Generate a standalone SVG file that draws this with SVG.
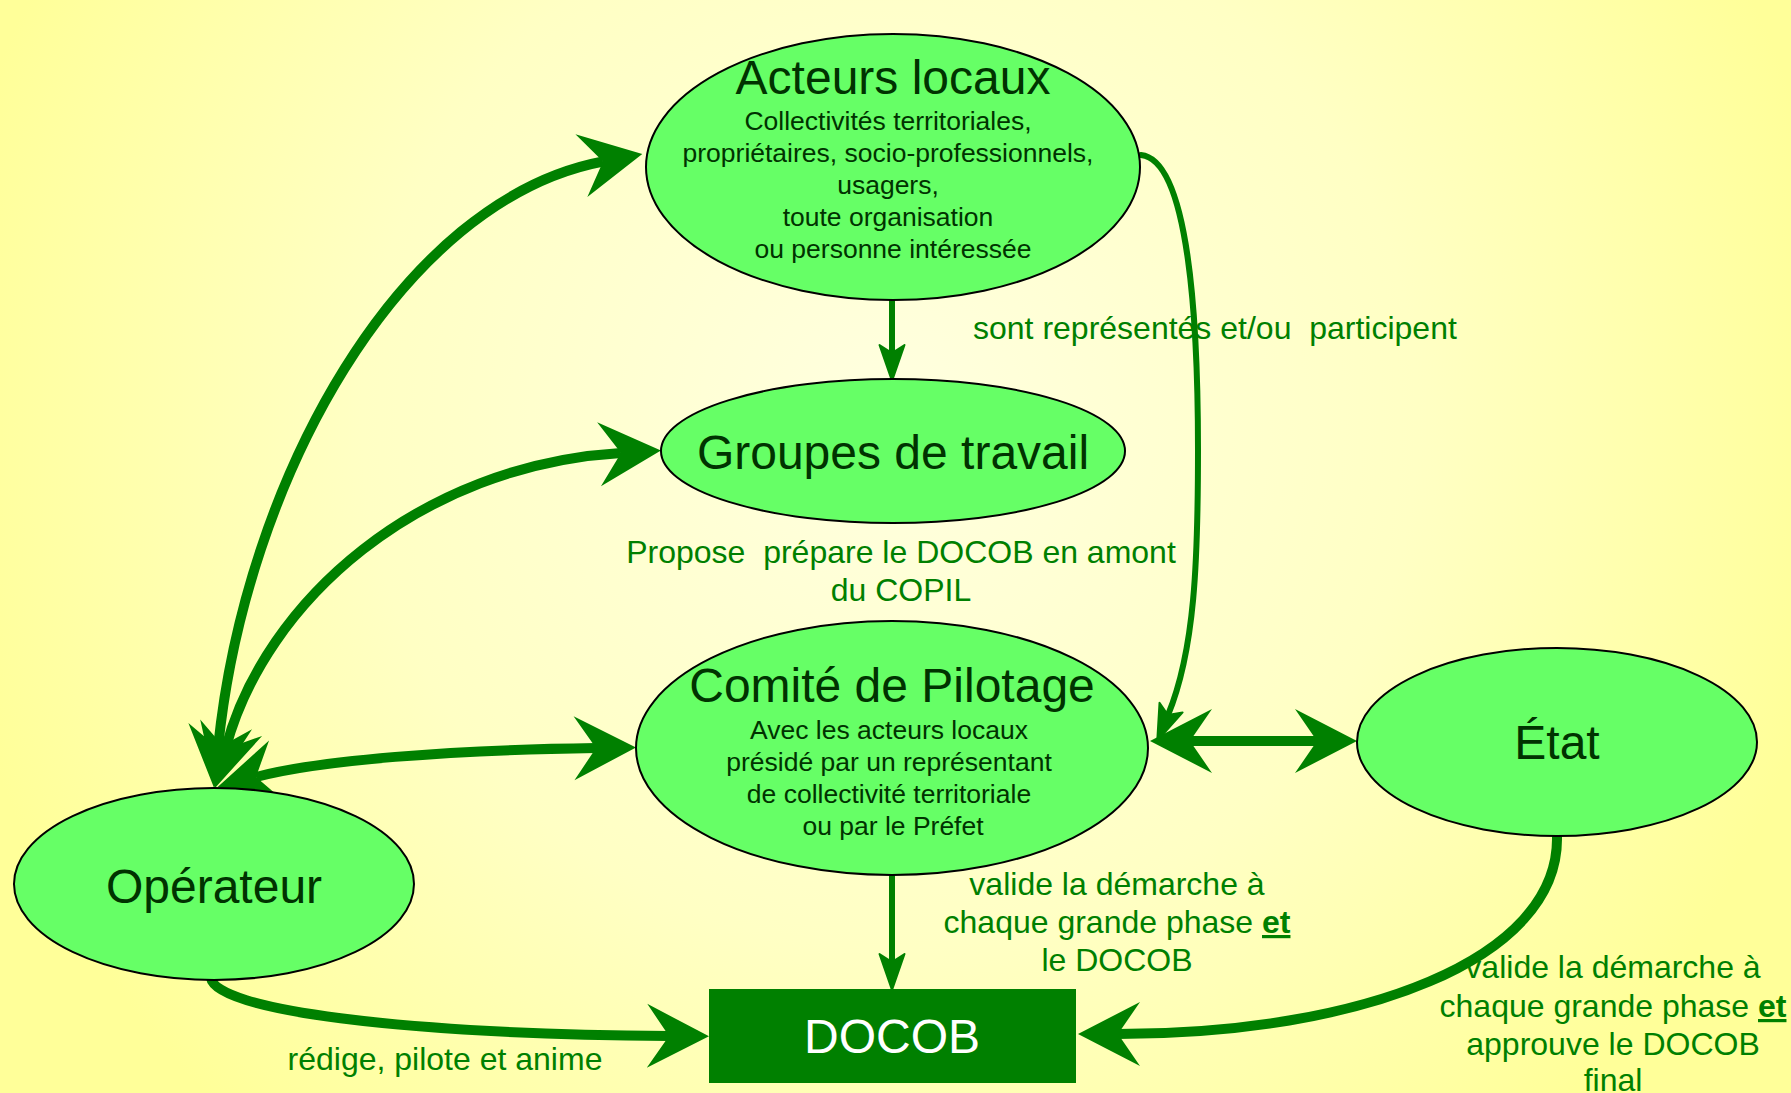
<svg xmlns="http://www.w3.org/2000/svg" width="1791" height="1093" viewBox="0 0 1791 1093">
<defs>
<radialGradient id="bg" gradientUnits="userSpaceOnUse" cx="890" cy="420" r="960">
<stop offset="0" stop-color="#ffffe0"/>
<stop offset="0.55" stop-color="#ffffc4"/>
<stop offset="1" stop-color="#ffff99"/>
</radialGradient>
<marker id="big" markerUnits="userSpaceOnUse" viewBox="-24 -34 66 68" refX="0" refY="0" markerWidth="66" markerHeight="68" orient="auto-start-reverse">
<path d="M40,0 L-22,-32 L0,0 L-22,32 Z" fill="#008000"/>
</marker>
<marker id="small" markerUnits="userSpaceOnUse" viewBox="-10 -14 40 28" refX="0" refY="0" markerWidth="40" markerHeight="28" orient="auto-start-reverse">
<path d="M28,0 L-8,-12.5 L0,0 L-8,12.5 Z" fill="#008000" stroke="#008000" stroke-width="2" stroke-linejoin="round"/>
</marker>
<style>
.node ellipse{fill:#66ff66;stroke:#000;stroke-width:2}
.title{font-family:"Liberation Sans",Arial,sans-serif;font-size:48px;fill:#003300;text-anchor:middle}
.sub{font-family:"Liberation Sans",Arial,sans-serif;font-size:26.5px;fill:#003300;text-anchor:middle}
.lbl{font-family:"Liberation Sans",Arial,sans-serif;font-size:32px;fill:#008000;white-space:pre}
.mid{text-anchor:middle}
.conn path{fill:none;stroke:#008000}
.thick{stroke-width:10}
.thin{stroke-width:6;stroke-linecap:round}
.b{font-weight:bold;text-decoration:underline}
</style>
</defs>
<rect x="0" y="0" width="1791" height="1093" fill="url(#bg)"/>

<g id="connectors" class="conn">
<path class="thick" d="M218,748 C245,480 400,200 603,161.5" marker-start="url(#big)" marker-end="url(#big)"/>
<path class="thick" d="M225.5,749 C265,600 420,465 621,453" marker-start="url(#big)" marker-end="url(#big)"/>
<path class="thick" d="M256,777 C320,760 450,750 596,748" marker-start="url(#big)" marker-end="url(#big)"/>
<path class="thick" d="M1190,741 L1317,741" marker-start="url(#big)" marker-end="url(#big)"/>
<path class="thick" d="M211,978 C215,1010 400,1034 669,1036" marker-end="url(#big)"/>
<path class="thick" d="M1557,836 C1560,960 1360,1034 1118,1034" marker-end="url(#big)"/>
<path class="thin" d="M892,300 L892,353" marker-end="url(#small)"/>
<path class="thin" d="M892,876 L892,962" marker-end="url(#small)"/>
<path class="thin" d="M1141,155 C1190,160 1198,330 1198,450 C1198,560 1195,650 1168,715" marker-end="url(#small)"/>
</g>

<g id="acteurs" class="node">
<ellipse cx="893" cy="167" rx="247" ry="133"/>
<text class="title" x="893" y="94">Acteurs locaux</text>
<text class="sub" x="888" y="130">Collectivités territoriales,</text>
<text class="sub" x="888" y="162">propriétaires, socio-professionnels,</text>
<text class="sub" x="888" y="194">usagers,</text>
<text class="sub" x="888" y="226">toute organisation</text>
<text class="sub" x="893" y="258">ou personne intéressée</text>
</g>

<g id="groupes" class="node">
<ellipse cx="893" cy="451" rx="232" ry="72"/>
<text class="title" x="893" y="469">Groupes de travail</text>
</g>

<g id="comite" class="node">
<ellipse cx="892" cy="748" rx="256" ry="127"/>
<text class="title" x="892" y="702">Comité de Pilotage</text>
<text class="sub" x="889" y="739">Avec les acteurs locaux</text>
<text class="sub" x="889" y="771">présidé par un représentant</text>
<text class="sub" x="889" y="803">de collectivité territoriale</text>
<text class="sub" x="893" y="835">ou par le Préfet</text>
</g>

<g id="etat" class="node">
<ellipse cx="1557" cy="742" rx="200" ry="94"/>
<text class="title" x="1557" y="759">État</text>
</g>

<g id="operateur" class="node">
<ellipse cx="214" cy="884" rx="200" ry="96"/>
<text class="title" x="214" y="903">Opérateur</text>
</g>

<g id="docob" class="node">
<rect x="709" y="989" width="367" height="94" fill="#008000"/>
<text class="title" x="892" y="1053" style="fill:#ffffff">DOCOB</text>
</g>

<g id="labels">
<text class="lbl" x="973" y="339">sont représentés et/ou  participent</text>
<text class="lbl mid" x="901" y="563">Propose  prépare le DOCOB en amont</text>
<text class="lbl mid" x="901" y="601">du COPIL</text>
<text class="lbl mid" x="1117" y="895">valide la démarche à</text>
<text class="lbl mid" x="1117" y="933">chaque grande phase <tspan class="b">et</tspan></text>
<text class="lbl mid" x="1117" y="971">le DOCOB</text>
<text class="lbl mid" x="1613" y="978">valide la démarche à</text>
<text class="lbl mid" x="1613" y="1017">chaque grande phase <tspan class="b">et</tspan></text>
<text class="lbl mid" x="1613" y="1055">approuve le DOCOB</text>
<text class="lbl mid" x="1613" y="1091">final</text>
<text class="lbl mid" x="445" y="1070">rédige, pilote et anime</text>
</g>
</svg>
